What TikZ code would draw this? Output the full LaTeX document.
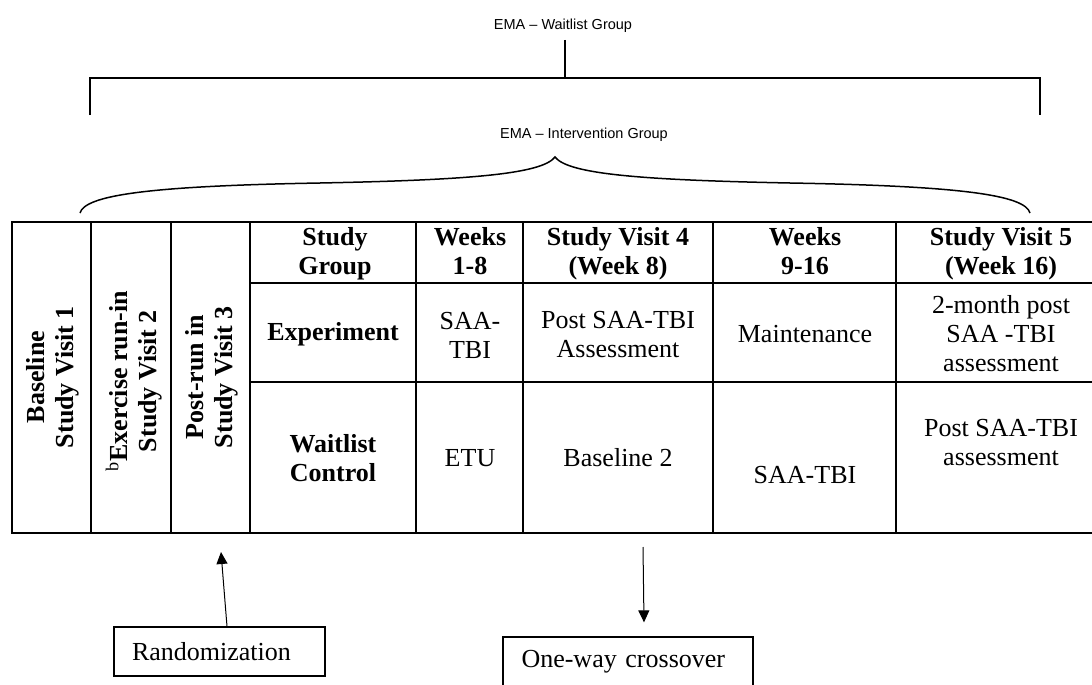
\documentclass[tikz,border=0pt]{standalone}
\usepackage{fontspec}
\setmainfont{Liberation Serif}
\newfontfamily\labelsans{Liberation Sans}
\usetikzlibrary{arrows.meta}

\begin{document}
\begin{tikzpicture}[x=1pt,y=-1pt,
  grid/.style={line width=2pt},
  hdr/.style={font=\fontsize{26}{29}\selectfont\bfseries, align=center, inner sep=0pt},
  colhdr/.style={hdr, text depth=6pt},
  cell/.style={font=\fontsize{26}{29}\selectfont, align=center, inner sep=0pt},
  vhdr/.style={hdr, rotate=90},
  ema/.style={font=\labelsans\fontsize{14.5}{17}\selectfont, inner sep=0pt},
  bracket/.style={line width=1.2pt},
  brace/.style={line width=1.5pt},
  notebox/.style={draw, line width=1.3pt, font=\fontsize{26}{29}\selectfont,
    inner xsep=18pt, inner ysep=0pt, align=left},
  pointer/.style={line width=1pt, -{Triangle[length=12pt,width=11pt]}}
]
\useasboundingbox (0,0) rectangle (1092,685);
\clip (0,0) rectangle (1092,685);

% ---- EMA waitlist bracket ----
\node[ema] (waitlbl) at (563,26) {EMA – Waitlist Group};
\coordinate (stemtop) at (565,40);
\coordinate (stembot) at (565,78);
\coordinate (legL) at (90,115);
\coordinate (legR) at (1040,115);
\draw[bracket] (legL) -- (legL |- stembot) -- (legR |- stembot) -- (legR);
\draw[bracket] (stemtop) -- (stembot);

% ---- EMA intervention brace ----
\node[ema] (intlbl) at (584,135) {EMA – Intervention Group};
\coordinate (braceL) at (80,213);
\coordinate (braceTip) at (555,157);
\coordinate (braceR) at (1030,213);
\draw[brace] (braceL) .. controls (85,195) and (150,186) .. (320,183)
  .. controls (470,180) and (542,174) .. (braceTip)
  .. controls (568,174) and (640,180) .. (790,183)
  .. controls (960,186) and (1025,195) .. (braceR);

% ---- table grid ----
\draw[grid] (1092,222) -- (12,222) -- (12,533) -- (1092,533);
\foreach \cx in {91,171,250,416,523,713,896}
  \draw[grid] (\cx,222) -- (\cx,533);
\draw[grid] (250,283) -- (1092,283);
\draw[grid] (250,382) -- (1092,382);

% ---- rotated visit columns ----
\node[vhdr] (sv1) at (53,377) {Baseline\\Study Visit 1};
\node[vhdr] (sv2) at (134,381) {\textsuperscript{\mdseries b}Exercise run-in\\Study Visit 2};
\node[vhdr] (sv3) at (212,377) {Post-run in\\Study Visit 3};

% ---- header row ----
\node[colhdr] (hgroup) at (335,254) {Study\\Group};
\node[colhdr] (hw18) at (470,254) {Weeks\\1-8};
\node[colhdr] (hsv4) at (618,254) {Study Visit 4\\(Week 8)};
\node[colhdr] (hw916) at (805,254) {Weeks\\9-16};
\node[colhdr] (hsv5) at (1001,254) {Study Visit 5\\(Week 16)};

% ---- experiment row ----
\node[hdr] (gexp) at (333,334) {Experiment};
\node[cell] (e18) at (470,335) {SAA-\\TBI};
\node[cell] (esv4) at (618,335) {Post SAA-TBI\\Assessment};
\node[cell] (e916) at (805,334) {Maintenance};
\node[cell] (esv5) at (1001,334) {2-month post\\SAA -TBI\\assessment};

% ---- waitlist row ----
\node[hdr] (gwait) at (333,458) {Waitlist\\Control};
\node[cell] (w18) at (470,458) {ETU};
\node[cell] (wsv4) at (618,458) {Baseline 2};
\node[cell] (w916) at (805,475) {SAA-TBI};
\node[cell] (wsv5) at (1001,443) {Post SAA-TBI\\assessment};

% ---- randomization and crossover notes ----
\node[notebox, minimum width=211pt, minimum height=49pt, text width=175pt] (rand) at (219.5,651.5) {Randomization};
\coordinate (randtip) at (221,552);
\draw[pointer] ([xshift=7.5pt]rand.north) -- (randtip);

\node[notebox, minimum width=250pt, minimum height=50pt, text width=213pt] (cross) at (628,662) {One-way crossover};
\coordinate (crossfrom) at (643,547);
\draw[pointer] (crossfrom) -- ([xshift=16pt,yshift=14pt]cross.north);
\end{tikzpicture}
\end{document}
